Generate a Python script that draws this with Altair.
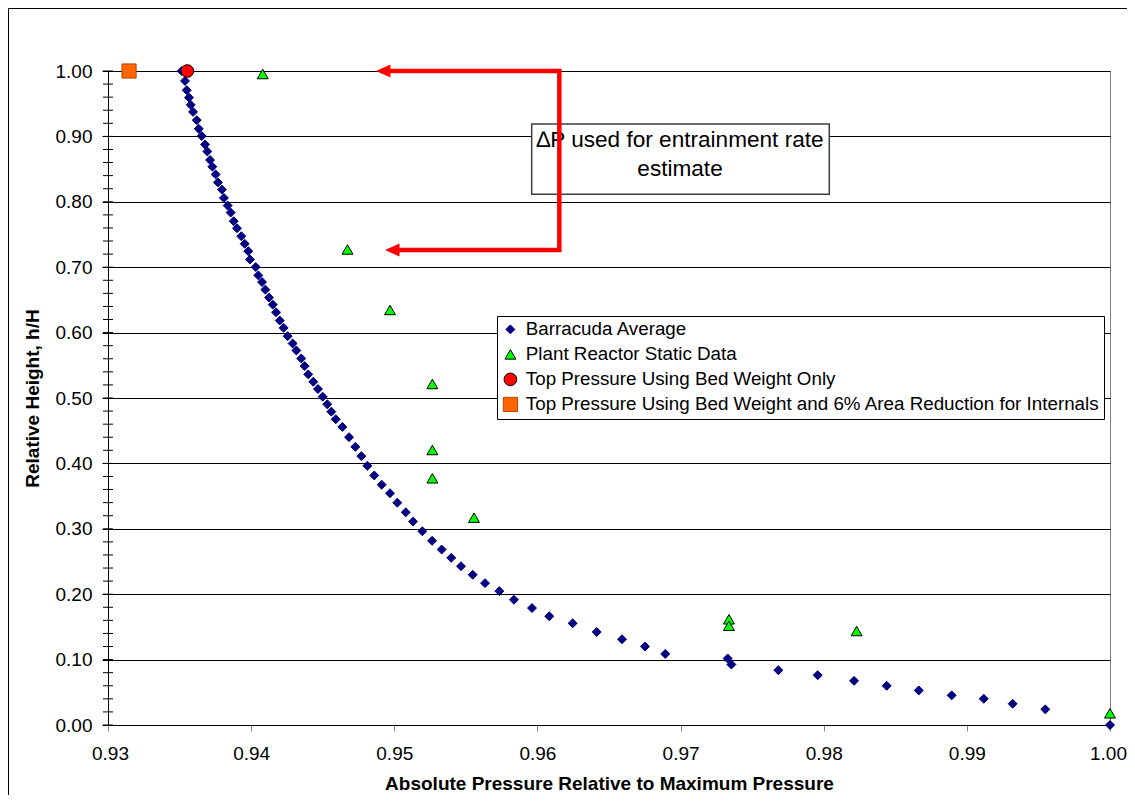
import altair as alt
import pandas as pd
import numpy as np

# ---------------- data ----------------
barracuda_x = [0.93515, 0.93538, 0.93550, 0.93566, 0.93578, 0.93594, 0.93620, 0.93634, 0.93655, 0.93678,
               0.93694, 0.93713, 0.93729, 0.93752, 0.93768, 0.93796, 0.93810, 0.93836, 0.93857, 0.93878,
               0.93901, 0.93931, 0.93955, 0.93980, 0.93992, 0.94032, 0.94050, 0.94076, 0.94099, 0.94125,
               0.94151, 0.94174, 0.94200, 0.94227, 0.94255, 0.94290, 0.94316, 0.94350, 0.94374, 0.94399,
               0.94434, 0.94467, 0.94500, 0.94532, 0.94560, 0.94591, 0.94637, 0.94684, 0.94728, 0.94770,
               0.94812, 0.94860, 0.94912, 0.94970, 0.95021, 0.95080, 0.95131, 0.95196, 0.95264, 0.95331,
               0.95398, 0.95466, 0.95548, 0.95634, 0.95734, 0.95836, 0.95962, 0.96083, 0.96246, 0.96414,
               0.96591, 0.96752, 0.96893, 0.97329, 0.97355, 0.97683, 0.97958, 0.98212, 0.98440, 0.98664,
               0.98894, 0.99118, 0.99320, 0.99548, 1.00000]
barracuda_y = [1.0000, 0.9848, 0.9706, 0.9593, 0.9482, 0.9375, 0.9248, 0.9116, 0.9005, 0.8877,
               0.8770, 0.8639, 0.8537, 0.8419, 0.8297, 0.8186, 0.8059, 0.7942, 0.7835, 0.7703,
               0.7596, 0.7474, 0.7358, 0.7245, 0.7119, 0.7002, 0.6875, 0.6773, 0.6657, 0.6535,
               0.6428, 0.6311, 0.6184, 0.6072, 0.5945, 0.5834, 0.5727, 0.5605, 0.5488, 0.5361,
               0.5248, 0.5137, 0.5020, 0.4904, 0.4791, 0.4675, 0.4558, 0.4401, 0.4253, 0.4111,
               0.3963, 0.3816, 0.3674, 0.3544, 0.3399, 0.3252, 0.3110, 0.2962, 0.2816, 0.2683,
               0.2556, 0.2428, 0.2297, 0.2169, 0.2047, 0.1916, 0.1788, 0.1662, 0.1555, 0.1422,
               0.1311, 0.1200, 0.1087, 0.1017, 0.0925, 0.0838, 0.0762, 0.0675, 0.0599, 0.0529,
               0.0453, 0.0401, 0.0325, 0.0239, 0.0000]

plant_x = [0.94081, 0.94673, 0.94970, 0.95266, 0.95266, 0.95266, 0.95557, 0.97338, 0.97338, 0.98230, 1.00000]
plant_y = [0.9954, 0.7271, 0.6346, 0.5214, 0.4205, 0.3772, 0.3170, 0.1616, 0.1518, 0.1437, 0.0179]

bed_only_x = [0.93554]
bed_only_y = [1.0]

bed_area_x = [0.93147]
bed_area_y = [1.0]

series_names = ["Barracuda Average",
                "Plant Reactor Static Data",
                "Top Pressure Using Bed Weight Only",
                "Top Pressure Using Bed Weight and 6% Area Reduction for Internals"]
series_fill = ["#000080", "#00FF00", "#FF0000", "#FF6600"]
series_stroke = ["#000080", "#000000", "#000000", "#B84600"]
series_shape = ["diamond", "triangle-up", "circle", "square"]
series_size = [80, 200, 135, 125]

x_ticks = [0.93, 0.94, 0.95, 0.96, 0.97, 0.98, 0.99, 1.00]
y_ticks = [0.0, 0.1, 0.2, 0.3, 0.4, 0.5, 0.6, 0.7, 0.8, 0.9, 1.0]
y_minor_ticks = [round(v, 2) for v in np.arange(0.0, 1.0001, 0.02)]

# annotation (callout box + red arrows)
note_lines = ["\u2206P used for entrainment rate", "estimate"]
note_x = [0.96996, 0.96996]
note_y = [0.8832, 0.8399]
box_x1, box_x2 = [0.95960], [0.98039]
box_y1, box_y2 = [0.9190], [0.8115]
arrow_path_x = [0.94942, 0.96153, 0.96153, 0.95005]
arrow_path_y = [1.0, 1.0, 0.7263, 0.7263]
arrow_tip_x = [0.94872, 0.94935]
arrow_tip_y = [1.0, 0.7263]

FONT = "Liberation Sans"

# ---------------- tables ----------------
pts = pd.concat([
    pd.DataFrame({"x": barracuda_x, "y": barracuda_y, "series": series_names[0]}),
    pd.DataFrame({"x": plant_x, "y": plant_y, "series": series_names[1]}),
    pd.DataFrame({"x": bed_only_x, "y": bed_only_y, "series": series_names[2]}),
    pd.DataFrame({"x": bed_area_x, "y": bed_area_y, "series": series_names[3]}),
], ignore_index=True)

minor_df = pd.DataFrame({"y": y_minor_ticks})
note_df = pd.DataFrame({"x": note_x, "y": note_y, "t": note_lines})
box_df = pd.DataFrame({"x": box_x1, "x2": box_x2, "y": box_y1, "y2": box_y2})
path_df = pd.DataFrame({"x": arrow_path_x, "y": arrow_path_y, "i": list(range(len(arrow_path_x)))})
tip_df = pd.DataFrame({"x": arrow_tip_x, "y": arrow_tip_y})
one_df = pd.DataFrame({"k": [0]})

xs = alt.Scale(domain=[0.93, 1.0], nice=False, zero=False)
ys = alt.Scale(domain=[0.0, 1.0], nice=False, zero=False)

x_axis = alt.Axis(title="Absolute Pressure Relative to Maximum Pressure", values=x_ticks, format=".2f",
                  grid=False, domainColor="black", domainWidth=1, tickColor="#808080", tickSize=6,
                  labelPadding=13, titlePadding=11, labelFlush=True, labelFlushOffset=16.5)
y_axis = alt.Axis(title="Relative Height, h/H", values=y_ticks, format=".2f",
                  grid=True, gridColor="black", gridOpacity=1, gridWidth=1,
                  domainColor="black", domainWidth=1, tickColor="black", tickSize=6,
                  labelPadding=10, titlePadding=13)


def X(field="x"):
    return alt.X(f"{field}:Q", scale=xs, axis=x_axis)


def Y(field="y"):
    return alt.Y(f"{field}:Q", scale=ys, axis=y_axis)


leg = alt.Legend(title=None, orient="none", legendX=389, legendY=245, direction="vertical",
                 strokeColor="black", fillColor="white", padding=4, rowPadding=5,
                 labelFont=FONT, labelFontSize=18.8, labelColor="black", labelOffset=6,
                 labelLimit=800, symbolStrokeWidth=1, symbolOpacity=1)

border_left = alt.Chart(one_df).mark_rule(color="black", strokeWidth=1).encode(
    x=alt.value(-99.5), y=alt.value(-62.5), y2=alt.value(760))
border_top = alt.Chart(one_df).mark_rule(color="black", strokeWidth=1).encode(
    x=alt.value(-99.5), x2=alt.value(1030), y=alt.value(-62.5))

minor = alt.Chart(minor_df).mark_rule(color="black", strokeWidth=1).encode(
    y=Y(), x=alt.value(-5), x2=alt.value(5))

box = alt.Chart(box_df).mark_rect(fill="white", stroke="#404040", strokeWidth=1.5).encode(
    x=X(), x2="x2:Q", y=Y(), y2="y2:Q")

note = alt.Chart(note_df).mark_text(font=FONT, fontSize=22.6, color="black", align="center",
                                    baseline="alphabetic").encode(x=X(), y=Y(), text="t:N")

arrow_line = alt.Chart(path_df).mark_line(color="#FF0000", strokeWidth=4.5, strokeJoin="miter",
                                          strokeCap="butt").encode(x=X(), y=Y(), order="i:Q")

arrow_head = alt.Chart(tip_df).mark_point(shape="M0,0L2,-0.9L2,0.9Z", filled=True, color="#FF0000",
                                          size=210, opacity=1, strokeWidth=0).encode(x=X(), y=Y())

points = alt.Chart(pts).mark_point(filled=True, opacity=1, strokeWidth=1).encode(
    x=X(), y=Y(),
    color=alt.Color("series:N", scale=alt.Scale(domain=series_names, range=series_fill), legend=leg),
    stroke=alt.Stroke("series:N", scale=alt.Scale(domain=series_names, range=series_stroke), legend=leg),
    shape=alt.Shape("series:N", scale=alt.Scale(domain=series_names, range=series_shape), legend=leg),
    size=alt.Size("series:N", scale=alt.Scale(domain=series_names, range=series_size), legend=leg),
)

chart = alt.layer(border_left, border_top, minor, box, note, arrow_line, arrow_head, points).properties(
    width=1002, height=654,
    autosize=alt.AutoSizeParams(type="none"),
    padding={"left": 100, "top": 63, "right": 17, "bottom": 70},
    background="white",
).configure_view(stroke="#808080", strokeWidth=1).configure_axis(
    labelFont=FONT, labelFontSize=19, labelColor="black",
    titleFont=FONT, titleFontSize=19, titleFontWeight="bold", titleColor="black",
)

chart.save("out.html", embed_options={"renderer": "svg", "actions": False})
